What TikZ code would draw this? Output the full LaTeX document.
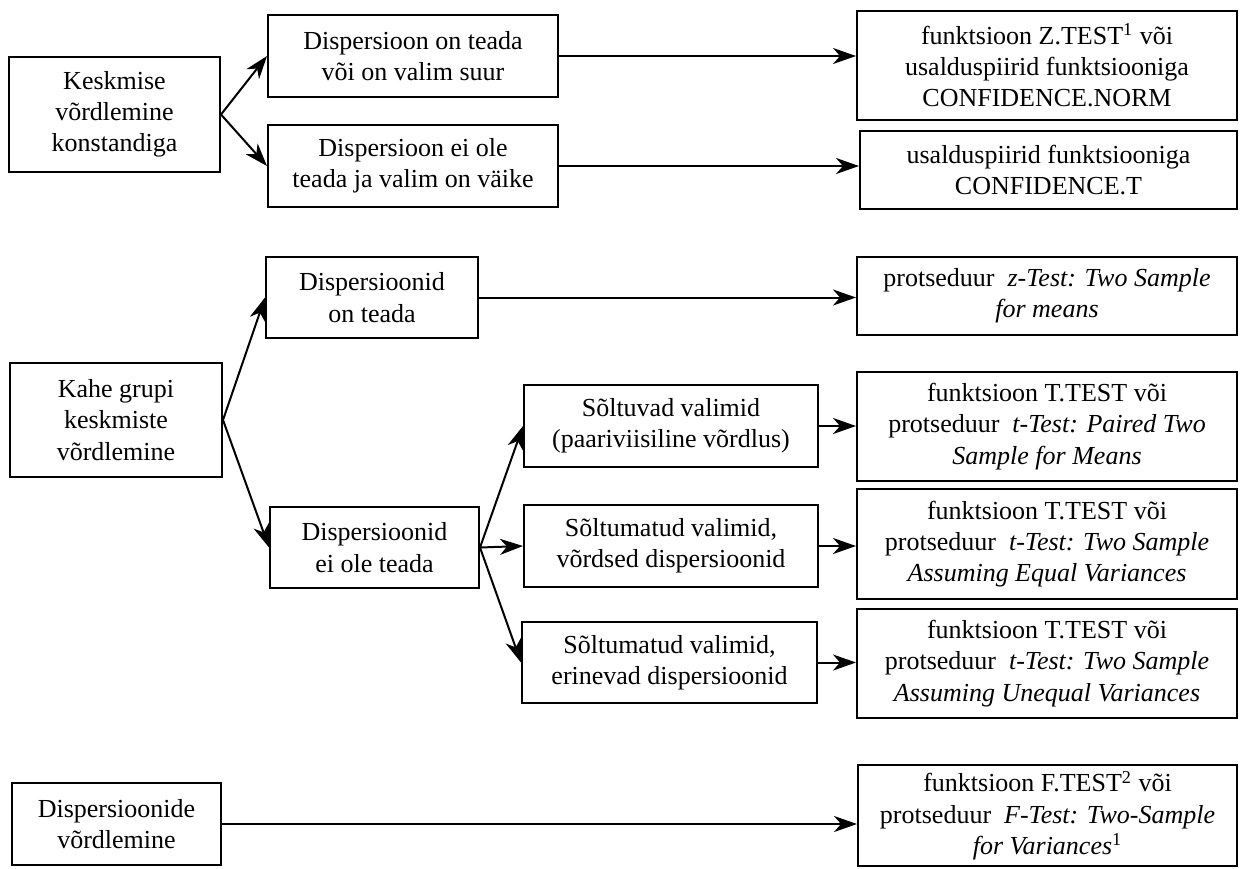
\documentclass[tikz,border=0pt]{standalone}
\usepackage{fontspec}
\setmainfont{Liberation Serif}
\usetikzlibrary{arrows.meta}
\begin{document}
\begin{tikzpicture}[x=0.5pt,y=-0.5pt,
  box/.style 2 args={draw,line width=1pt,inner sep=0pt,align=center,
    minimum width=#1*0.5pt,minimum height=#2*0.5pt,
    font=\fontsize{13}{15.6}\selectfont},
  arr/.style={line width=1pt,-{Stealth[length=11.5pt,width=8pt,inset=3.5pt]}}]
\useasboundingbox (0,0) rectangle (1240,868);
% column 1
\node[box={211}{115}] (kc) at (114.5,114.5) {Keskmise\\võrdlemine\\konstandiga};
\node[box={212}{114}] (kg) at (116,420) {Kahe grupi\\keskmiste\\võrdlemine};
\node[box={209}{82}] (dv) at (116.5,824) {Dispersioonide\\võrdlemine};
% column 2
\node[box={290}{82}] (d1) at (413,56) {Dispersioon on teada\\või on valim suur};
\node[box={290}{82}] (d2) at (413,166) {Dispersioon ei ole\\teada ja valim on väike};
\node[box={212}{81}] (ot) at (372,297.5) {Dispersioonid\\on teada};
\node[box={209}{81}] (eo) at (374.5,547.5) {Dispersioonid\\ei ole teada};
% column 3
\node[box={294}{82}] (s1) at (671,426) {Sõltuvad valimid\\(paariviisiline võrdlus)};
\node[box={294}{82}] (s2) at (671,546) {Sõltumatud valimid,\\võrdsed dispersioonid};
\node[box={295}{81}] (s3) at (669.5,662.5) {Sõltumatud valimid,\\erinevad dispersioonid};
% column 4
\node[box={380}{109}] (z1) at (1047,65.5) {funktsioon Z.TEST\textsuperscript{1} või\\usalduspiirid funktsiooniga\\CONFIDENCE.NORM};
\node[box={377}{78}] (z2) at (1048.5,170) {usalduspiirid funktsiooniga\\CONFIDENCE.T};
\node[box={380}{78}] (zt) at (1047,296) {protseduur\ \ \textit{z-Test: Two Sample}\\\textit{for means}};
\node[box={380}{109}] (t1) at (1047,426.5) {funktsioon T.TEST või\\protseduur\ \ \textit{t-Test: Paired Two}\\\textit{Sample for Means}};
\node[box={380}{110}] (t2) at (1047,544) {funktsioon T.TEST või\\protseduur\ \ \textit{t-Test: Two Sample}\\\textit{Assuming Equal Variances}};
\node[box={380}{109}] (t3) at (1047,663.5) {funktsioon T.TEST või\\protseduur\ \ \textit{t-Test: Two Sample}\\\textit{Assuming Unequal Variances}};
\node[box={379}{101}] (ft) at (1047.5,815.5) {funktsioon F.TEST\textsuperscript{2} või\\protseduur\ \ \textit{F-Test: Two-Sample}\\\textit{for Variances}\textsuperscript{1}};
% connectors
\draw[arr] (kc.east) -- (d1.west);
\draw[arr] (kc.east) -- (d2.west);
\draw[arr] (d1.east) -- (d1.east -| z1.west);
\draw[arr] (d2.east) -- (d2.east -| z2.west);
\draw[arr] (kg.east) -- (ot.west);
\draw[arr] (kg.east) -- (eo.west);
\draw[arr] (ot.east) -- (ot.east -| zt.west);
\draw[arr] (eo.east) -- (s1.west);
\draw[arr] (eo.east) -- (s2.west);
\draw[arr] (eo.east) -- (s3.west);
\draw[arr] (s1.east) -- (s1.east -| t1.west);
\draw[arr] (s2.east) -- (s2.east -| t2.west);
\draw[arr] (s3.east) -- (s3.east -| t3.west);
\draw[arr] (dv.east) -- (dv.east -| ft.west);
\end{tikzpicture}
\end{document}
